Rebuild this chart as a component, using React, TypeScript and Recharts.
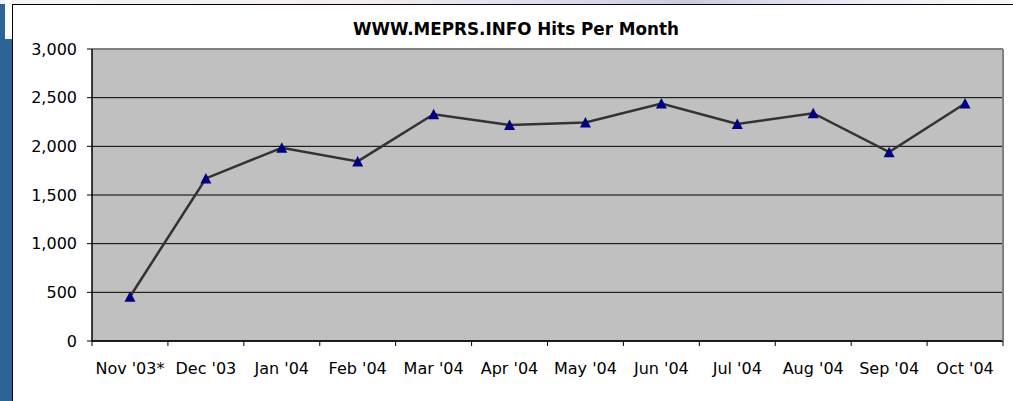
import { CartesianGrid, Line, LineChart, XAxis, YAxis } from "recharts";

const months = [
  "Nov '03*",
  "Dec '03",
  "Jan '04",
  "Feb '04",
  "Mar '04",
  "Apr '04",
  "May '04",
  "Jun '04",
  "Jul '04",
  "Aug '04",
  "Sep '04",
  "Oct '04",
];
const hits = [455, 1670, 1985, 1845, 2330, 2220, 2245, 2440, 2230, 2340, 1940, 2440];
const yTicks = [0, 500, 1000, 1500, 2000, 2500, 3000];
const title = "WWW.MEPRS.INFO Hits Per Month";

const data = months.map((month, idx) => ({ idx, month, hits: hits[idx] }));
const centerTicks = months.map((_, i) => i);
const edgeTicks = [...months.map((_, i) => i - 0.5), months.length - 0.5];
const xDomain = [-0.5, months.length - 0.5];

const font = "'DejaVu Sans', Verdana, sans-serif";

function Triangle(props: any) {
  const { cx, cy } = props;
  if (cx == null || cy == null) return null;
  return (
    <polygon
      points={`${cx},${cy - 5.5} ${cx + 5.5},${cy + 5} ${cx - 5.5},${cy + 5}`}
      fill="#000080"
    />
  );
}

export default function App() {
  return (
    <div
      style={{
        position: "fixed",
        left: 0,
        top: 0,
        width: 1013,
        height: 401,
        background: "#2e6396",
        overflow: "hidden",
      }}
    >
      <div
        style={{
          position: "absolute",
          left: 0,
          top: 0,
          width: 1013,
          height: 4,
          background:
            "linear-gradient(90deg, #f4f4f8 0%, #f6eef0 35%, #dcdcec 55%, #c8cce0 68%, #eceef4 85%, #f8f8fa 100%)",
        }}
      />
      <div style={{ position: "absolute", left: 5, top: 0, width: 7, height: 39, background: "#fff" }} />
      <div
        style={{
          position: "absolute",
          left: 12,
          top: 4,
          width: 1010,
          height: 410,
          background: "#fff",
          borderLeft: "1.5px solid #000",
          borderTop: "1.5px solid #000",
        }}
      />
      <div
        style={{
          position: "absolute",
          left: 0,
          top: 19,
          width: 1032,
          textAlign: "center",
          fontFamily: font,
          fontWeight: "bold",
          fontSize: 16.8,
          color: "#000",
        }}
      >
        {title}
      </div>
      <div style={{ position: "absolute", left: 0, top: 0 }}>
        <LineChart
          width={1013}
          height={401}
          data={data}
          margin={{ top: 48, right: 9, bottom: 29, left: 0 }}
        >
          <CartesianGrid
            xAxisId="main"
            yAxisId="left"
            vertical={false}
            fill="#c0c0c0"
            stroke="#000"
            strokeOpacity={1}
          />
          <XAxis
            xAxisId="edge"
            dataKey="idx"
            type="number"
            domain={xDomain}
            allowDataOverflow
            ticks={edgeTicks}
            interval={0}
            tickFormatter={() => ""}
            tick={{ fontSize: 1 }}
            tickSize={5}
            height={1}
            axisLine={{ stroke: "#000", strokeWidth: 1.5 }}
            tickLine={{ stroke: "#000", strokeWidth: 1 }}
          />
          <XAxis
            xAxisId="main"
            dataKey="idx"
            type="number"
            domain={xDomain}
            allowDataOverflow
            ticks={centerTicks}
            interval={0}
            tickFormatter={(v) => months[v] ?? ""}
            axisLine={false}
            tickLine={false}
            tickSize={5}
            tickMargin={16}
            height={30}
            tick={{ fill: "#000", fontSize: 16, fontFamily: font }}
          />
          <XAxis
            xAxisId="top"
            orientation="top"
            dataKey="idx"
            type="number"
            domain={xDomain}
            allowDataOverflow
            tick={false}
            tickLine={false}
            height={1}
            axisLine={{ stroke: "#808080", strokeWidth: 2 }}
          />
          <YAxis
            yAxisId="left"
            domain={[0, 3000]}
            ticks={yTicks}
            interval={0}
            width={92}
            tickSize={5}
            tickMargin={10}
            tickFormatter={(v) => v.toLocaleString("en-US")}
            axisLine={{ stroke: "#000", strokeWidth: 1.5 }}
            tickLine={{ stroke: "#000" }}
            tick={{ fill: "#000", fontSize: 16, fontFamily: font }}
          />
          <YAxis
            yAxisId="right"
            orientation="right"
            domain={[0, 3000]}
            width={1}
            tick={false}
            tickLine={false}
            axisLine={{ stroke: "#808080", strokeWidth: 2 }}
          />
          <Line
            xAxisId="main"
            yAxisId="left"
            type="linear"
            dataKey="hits"
            stroke="#333333"
            strokeWidth={2.5}
            dot={<Triangle />}
            activeDot={false}
            isAnimationActive={false}
          />
        </LineChart>
      </div>
    </div>
  );
}
